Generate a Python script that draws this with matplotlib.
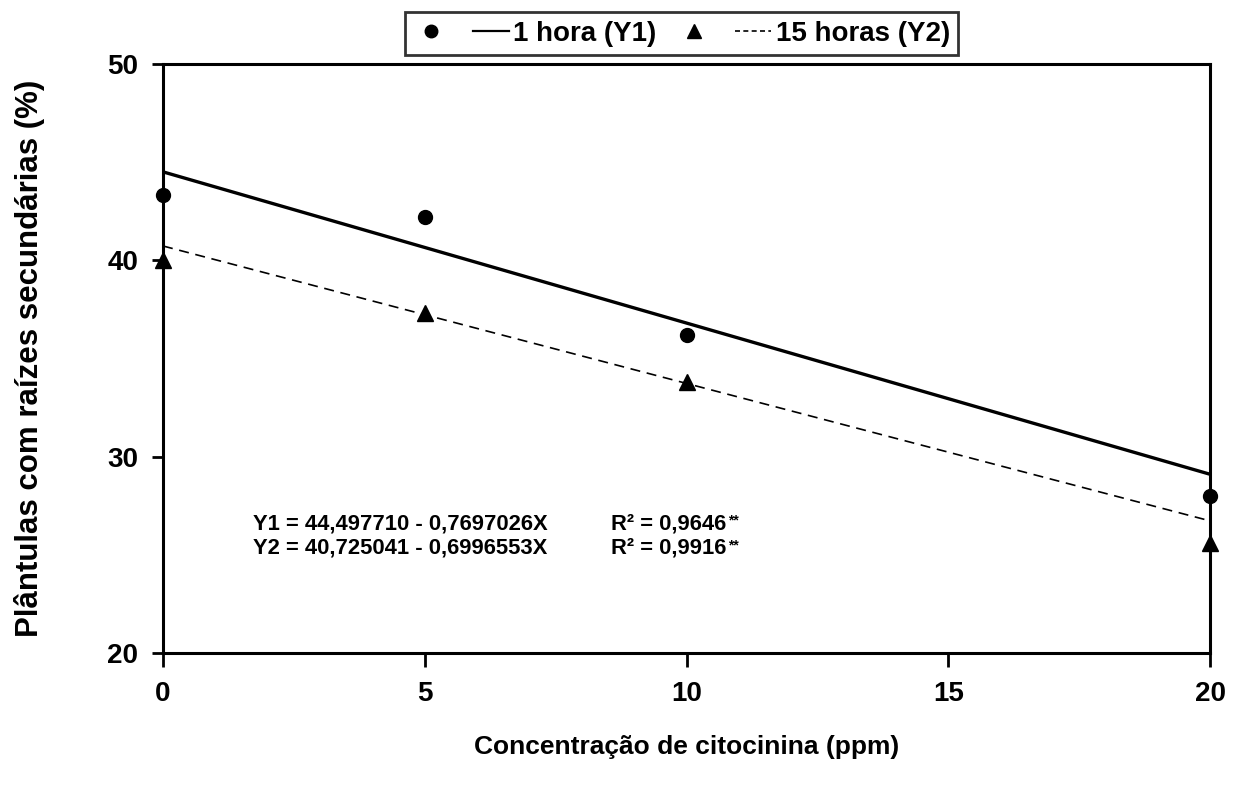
import matplotlib
matplotlib.use("Agg")
import matplotlib.pyplot as plt
from matplotlib.lines import Line2D
import numpy as np

plt.rcParams['font.family'] = ['Liberation Sans', 'DejaVu Sans']
plt.rcParams['font.weight'] = 'bold'
plt.rcParams['axes.labelweight'] = 'bold'

# dados
conc = [0, 5, 10, 20]
y1_obs = [43.3, 42.2, 36.2, 28.0]
y2_obs = [40.0, 37.3, 33.8, 25.6]

# equações de regressão
a1, b1 = 44.497710, -0.7697026
a2, b2 = 40.725041, -0.6996553
eq_lines = ["Y1 = 44,497710 - 0,7697026X", "Y2 = 40,725041 - 0,6996553X"]
r2_lines = ["R² = 0,9646", "R² = 0,9916"]

fig = plt.figure(figsize=(12.35, 7.87), dpi=100)
ax = fig.add_axes([0.132, 0.170, 0.848, 0.749])

xf = np.array([0, 20])
ax.plot(xf, a1 + b1 * xf, color='black', lw=2.4, solid_capstyle='butt')
ax.plot(xf, a2 + b2 * xf, color='black', lw=1.2, ls=(0, (6, 4)))
ax.plot(conc, y1_obs, 'o', color='black', ms=10, clip_on=False, zorder=5)
ax.plot(conc, y2_obs, '^', color='black', ms=12, clip_on=False, zorder=5)

ax.set_xlim(0, 20)
ax.set_ylim(20, 50)
ax.set_xticks([0, 5, 10, 15, 20])
ax.set_yticks([20, 30, 40, 50])
ax.tick_params(axis='both', direction='out', width=2, labelsize=20)
ax.tick_params(axis='x', length=10, pad=10)
ax.tick_params(axis='y', length=8, pad=10)
for s in ax.spines.values():
    s.set_linewidth(2.2)

ax.set_xlabel("Concentração de citocinina (ppm)", fontsize=19, labelpad=20)
ax.set_ylabel("Plântulas com raízes secundárias (%)", fontsize=22.5, labelpad=45)

for i, (eq, r2) in enumerate(zip(eq_lines, r2_lines)):
    yy = 26.6 - 1.27 * i
    ax.text(1.72, yy, eq, fontsize=15.8, va='center', ha='left')
    t = ax.text(8.56, yy, r2, fontsize=15.8, va='center', ha='left')
    # asteriscos de significância, pequenos e elevados
    ax.annotate("**", xy=(1, 1), xycoords=t, xytext=(1, 0),
                textcoords='offset points', fontsize=10, va='top', ha='left')

handles = [
    Line2D([], [], ls='none', marker='o', color='black', ms=9),
    Line2D([], [], color='black', lw=1.6),
    Line2D([], [], ls='none', marker='^', color='black', ms=10),
    Line2D([], [], color='black', lw=1.2, ls=(0, (3, 2))),
]
labels = ['', '1 hora (Y1)', '', '15 horas (Y2)']
leg = ax.legend(handles, labels, ncol=4, loc='lower center',
                bbox_to_anchor=(0.495, 1.01), fontsize=20, frameon=True,
                fancybox=False, edgecolor='black', handlelength=1.3,
                handletextpad=0.15, columnspacing=0.7, borderpad=0.3,
                borderaxespad=0.1)
leg.get_frame().set_linewidth(2)

fig.savefig("out.png", dpi=100)
